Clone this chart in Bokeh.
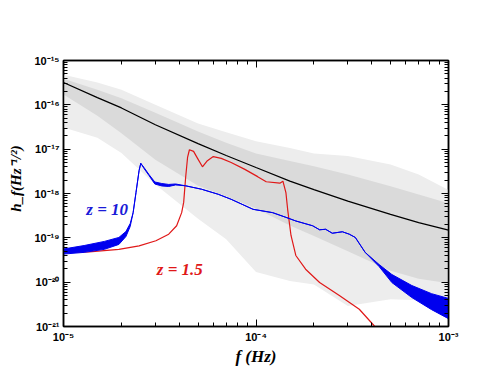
import math
from bokeh.plotting import figure
from bokeh.models import LogAxis, FixedTicker, CustomJSTickFormatter, Label
from bokeh.embed import file_html
from bokeh.resources import INLINE

# ---------------- data ----------------
# gray noise realisation: envelope
f_noise = [1e-5, 1.5e-5, 2e-5, 3e-5, 5e-5, 7e-5, 1e-4, 1.5e-4, 2e-4, 3e-4, 5e-4, 7e-4, 1e-3]
noise_spike_hi = [4.8e-16, 3.2e-16, 2.2e-16, 1.0e-16, 3.8e-17, 2.4e-17, 1.5e-17, 1.06e-17, 8.0e-18, 7.0e-18, 4.5e-18, 2.7e-18, 1.2e-18]
noise_core_hi = [3.9e-16, 2.2e-16, 1.4e-16, 6.6e-17, 2.5e-17, 1.4e-17, 8.0e-18, 5.4e-18, 4.1e-18, 2.7e-18, 1.45e-18, 9.5e-19, 6.0e-19]
noise_core_lo = [1.7e-16, 5.7e-17, 2.3e-17, 5.8e-18, 1.5e-18, 8.7e-19, 4.6e-19, 1.9e-19, 1.1e-19, 5.0e-20, 1.8e-20, 1.2e-20, 9.5e-21]
noise_spike_lo = [3.1e-17, 1.8e-17, 8.2e-18, 1.6e-18, 2.7e-19, 9.3e-20, 1.7e-20, 1.06e-20, 8.9e-21, 2.9e-21, 4.1e-21, 3.9e-21, 3.9e-21]
# black sensitivity curve
h_sens = [3.19e-16, 1.46e-16, 8.5e-17, 3.55e-17, 1.34e-17, 7.2e-18, 3.86e-18, 1.91e-18, 1.23e-18, 6.7e-19, 3.4e-19, 2.2e-19, 1.49e-19]

# z = 10 signal (blue); hi/lo = envelope of the fast oscillation
f_blue = [1.0e-5, 1.28e-5, 1.63e-5, 1.94e-5, 2.11e-5, 2.22e-5, 2.30e-5, 2.38e-5, 2.47e-5, 2.52e-5,
          2.62e-5, 2.78e-5, 2.98e-5, 3.24e-5, 3.52e-5, 3.82e-5, 4.31e-5, 5.21e-5, 6.37e-5, 7.43e-5,
          9.65e-5, 1.22e-4, 1.43e-4, 1.61e-4, 1.97e-4, 2.14e-4, 2.30e-4, 2.49e-4, 2.81e-4, 3.05e-4,
          3.28e-4, 3.69e-4, 4.36e-4, 5.08e-4, 6.45e-4, 8.17e-4, 1.0e-3]
h_blue_hi = [5.6e-20, 6.7e-20, 8.3e-20, 1.02e-19, 1.39e-19, 2.1e-19, 3.7e-19, 1.05e-18, 3.3e-18, 4.8e-18,
             3.85e-18, 2.68e-18, 1.82e-18, 1.68e-18, 1.60e-18, 1.64e-18, 1.49e-18, 1.25e-18, 9.6e-19, 7.4e-19,
             4.4e-19, 3.7e-19, 2.9e-19, 2.4e-19, 1.87e-19, 1.52e-19, 1.56e-19, 1.27e-19, 1.37e-19, 1.21e-19,
             1.02e-19, 4.7e-20, 2.5e-20, 1.49e-20, 8.4e-21, 5.5e-21, 4.3e-21]
h_blue_lo = [4.3e-20, 4.7e-20, 5.5e-20, 7.1e-20, 1.07e-19, 1.8e-19, 3.7e-19, 1.05e-18, 3.3e-18, 4.8e-18,
             3.66e-18, 2.55e-18, 1.64e-18, 1.48e-18, 1.44e-18, 1.56e-18, 1.49e-18, 1.25e-18, 9.6e-19, 7.4e-19,
             4.4e-19, 3.7e-19, 2.9e-19, 2.4e-19, 1.87e-19, 1.52e-19, 1.56e-19, 1.27e-19, 1.37e-19, 1.21e-19,
             1.02e-19, 4.7e-20, 2.25e-20, 9.8e-21, 4.5e-21, 2.4e-21, 1.5e-21]

# z = 1.5 signal (red)
f_red = [1.0e-5, 1.36e-5, 1.94e-5, 2.47e-5, 3.02e-5, 3.52e-5, 3.87e-5, 4.11e-5, 4.21e-5, 4.31e-5,
         4.41e-5, 4.51e-5, 4.74e-5, 4.97e-5, 5.27e-5, 5.59e-5, 6.00e-5, 6.60e-5, 7.43e-5, 8.75e-5,
         1.02e-4, 1.13e-4, 1.33e-4, 1.38e-4, 1.43e-4, 1.46e-4, 1.52e-4, 1.61e-4, 1.81e-4, 2.14e-4,
         2.71e-4, 3.44e-4, 4.11e-4, 4.51e-4]
h_red = [4.7e-20, 4.8e-20, 5.5e-20, 6.6e-20, 8.6e-20, 1.21e-19, 1.87e-19, 3.7e-19, 6.3e-19, 2.3e-18,
         6.5e-18, 9.7e-18, 8.9e-18, 6.2e-18, 4.0e-18, 5.5e-18, 6.8e-18, 6.2e-18, 5.0e-18, 3.5e-18,
         2.4e-18, 1.84e-18, 1.71e-18, 1.9e-18, 1.05e-18, 4.4e-19, 1.13e-19, 4.0e-20, 1.96e-20, 9.8e-21,
         5.0e-21, 2.45e-21, 1.04e-21, 5.6e-22]

x_exps = [-5, -4, -3]
x_tick_labels = ["10\u207b\u2075", "10\u207b\u2074", "10\u207b\u00b3"]
y_exps = [-21, -20, -19, -18, -17, -16, -15]
y_tick_labels = ["10\u207b\u00b2\u00b9", "10\u207b\u00b2\u2070", "10\u207b\u00b9\u2079", "10\u207b\u00b9\u2078",
                 "10\u207b\u00b9\u2077", "10\u207b\u00b9\u2076", "10\u207b\u00b9\u2075"]
x_title = "f (Hz)"
y_title = "\u2003\u2003h_f(Hz\u207b\u00b9/\u00b2)"

# ---------------- figure ----------------
XMIN, XMAX, YMIN, YMAX = 1e-5, 1e-3, 1e-21, 1e-15
FW, FH = 385, 266
BL, BT, BR, BB = 63, 60, 25, 52

p = figure(x_axis_type="log", y_axis_type="log", x_range=(XMIN, XMAX), y_range=(YMIN, YMAX),
           width=BL + FW + BR, height=BT + FH + BB, output_backend="svg", toolbar_location=None,
           min_border_left=BL, min_border_right=BR, min_border_top=BT, min_border_bottom=BB,
           background_fill_color="white", border_fill_color="white")
p.grid.visible = False
p.outline_line_color = "black"
p.outline_line_width = 1.5


def px(xp, yp):
    """picture-pixel position (as seen in the reference) -> data coordinates (for text placement)"""
    lx = math.log10(XMIN) + (xp - 59) / 388 * (math.log10(XMAX) - math.log10(XMIN))
    ly = math.log10(YMAX) - (yp - 58) / 266 * (math.log10(YMAX) - math.log10(YMIN))
    return 10 ** lx, 10 ** ly


x_minor = [m * 10.0 ** e for e in x_exps[:-1] for m in range(2, 10)]
y_minor = [m * 10.0 ** e for e in y_exps[:-1] for m in range(2, 10)]
xticker = FixedTicker(ticks=[10.0 ** e for e in x_exps], minor_ticks=x_minor)
yticker = FixedTicker(ticks=[10.0 ** e for e in y_exps], minor_ticks=y_minor)

fmt_code = """
const e = Math.round(Math.log10(tick));
const i = exps.indexOf(e);
return i >= 0 ? labels[i] : '';
"""
xfmt = CustomJSTickFormatter(args=dict(labels=x_tick_labels, exps=x_exps), code=fmt_code)
yfmt = CustomJSTickFormatter(args=dict(labels=y_tick_labels, exps=y_exps), code=fmt_code)
blank = CustomJSTickFormatter(code="return '';")

SERIF = "Liberation Serif"


def style_axis(ax):
    ax.axis_line_color = "black"
    ax.axis_line_width = 1.5
    ax.major_tick_in = 7
    ax.major_tick_out = 0
    ax.minor_tick_in = 4
    ax.minor_tick_out = 0
    ax.major_tick_line_color = "black"
    ax.minor_tick_line_color = "black"
    ax.major_tick_line_width = 1
    ax.minor_tick_line_width = 1
    ax.major_label_text_font = "Liberation Sans"
    ax.major_label_text_font_style = "bold"
    ax.major_label_text_font_size = "11px"
    ax.major_label_text_color = "black"
    ax.axis_label_text_font = SERIF
    ax.axis_label_text_font_style = "bold italic"
    ax.axis_label_text_color = "black"


p.xaxis.ticker = xticker
p.xaxis.formatter = xfmt
p.yaxis.ticker = yticker
p.yaxis.formatter = yfmt
p.xaxis.major_label_standoff = 4
p.yaxis.major_label_standoff = 4
for ax in p.xaxis + p.yaxis:
    style_axis(ax)

p.xaxis.axis_label = x_title
p.xaxis.axis_label_text_font_size = "17px"
p.xaxis.axis_label_standoff = 1
p.yaxis.axis_label = y_title
p.yaxis.axis_label_text_font_size = "15px"
p.yaxis.axis_label_standoff = 7

top_ax = LogAxis(ticker=xticker, formatter=blank, major_label_standoff=0)
right_ax = LogAxis(ticker=yticker, formatter=blank, major_label_standoff=0)
style_axis(top_ax)
style_axis(right_ax)
p.add_layout(top_ax, "above")
p.add_layout(right_ax, "right")

# gray noise band
p.varea(x=f_noise, y1=noise_spike_lo, y2=noise_spike_hi, fill_color="#ededed")
p.varea(x=f_noise, y1=noise_core_lo, y2=noise_core_hi, fill_color="#dadada")
# sensitivity
p.line(f_noise, h_sens, line_color="black", line_width=1.3)
# z = 1.5
p.line(f_red, h_red, line_color="#e01818", line_width=1.2)
# z = 10
p.varea(x=f_blue, y1=h_blue_lo, y2=h_blue_hi, fill_color="#0000ee")
p.line(f_blue, h_blue_hi, line_color="#0000ee", line_width=1)
p.line(f_blue, h_blue_lo, line_color="#0000ee", line_width=1)


def add_text(xp, yp, text, size, color="black"):
    x, y = px(xp, yp)
    p.add_layout(Label(x=x, y=y, text=text, text_font=SERIF, text_font_style="bold italic",
                       text_font_size=size, text_color=color, text_baseline="alphabetic",
                       text_align="left"))


# curve annotations (reference picture pixel positions)
add_text(82, 207, "z = 10", "17px", "#1a1ad8")
add_text(153, 267, "z = 1.5", "17px", "#e01818")

open("out.html", "w").write(file_html(p, INLINE))
